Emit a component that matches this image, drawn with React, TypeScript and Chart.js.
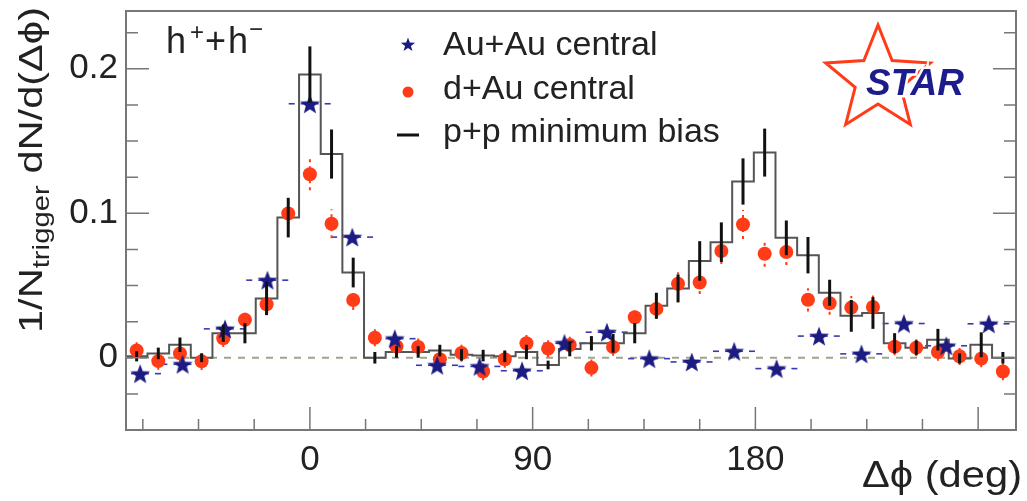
import React, { useEffect, useRef } from 'react';
import { Chart, registerables } from 'chart.js';

Chart.register(...registerables);

// ---------- data ----------
// p+p minimum bias histogram: bin centres (deg), contents, statistical errors
const ppBinCenters = [
  -70, -61.25, -52.5, -43.75, -35, -26.25, -17.5, -8.75, 0, 8.75, 17.5,
  26.25, 35, 43.75, 52.5, 61.25, 70, 78.75, 87.5, 96.25, 105, 113.75,
  122.5, 131.25, 140, 148.75, 157.5, 166.25, 175, 183.75, 192.5, 201.25,
  210, 218.75, 227.5, 236.25, 245, 253.75, 262.5, 271.25, 280,
];
const ppBinHalfWidth = 4.375;
const ppValues = [
  0.001, 0.003, 0.009, 0.0, 0.017, 0.017, 0.041, 0.097, 0.196, 0.141, 0.059,
  0.0, 0.004, 0.004, 0.005, 0.002, 0.0015, 0.001, 0.004, -0.005, 0.006, 0.010,
  0.010, 0.017, 0.036, 0.048, 0.067, 0.080, 0.122, 0.142, 0.083, 0.071,
  0.045, 0.029, 0.031, 0.010, 0.007, 0.0125, -0.0005, 0.009, 0.0,
];
const ppErrors = [
  0.0035, 0.004, 0.005, 0.003, 0.006, 0.007, 0.0115, 0.0137, 0.0195, 0.017, 0.0103,
  0.004, 0.004, 0.004, 0.004, 0.004, 0.004, 0.004, 0.005, 0.003, 0.005, 0.005,
  0.0065, 0.007, 0.009, 0.0097, 0.0137, 0.0137, 0.016, 0.0166, 0.012, 0.0126,
  0.009, 0.011, 0.011, 0.007, 0.005, 0.0075, 0.0035, 0.0086, 0.004,
];

// d+Au central (same binning as p+p)
const dAuValues = [
  0.005, -0.0023, 0.003, -0.0025, 0.0135, 0.0263, 0.037, 0.0998, 0.127, 0.0927, 0.040,
  0.0139, 0.0078, 0.0075, -0.001, 0.0033, -0.0095, -0.001, 0.010, 0.0063, 0.0088, -0.007,
  0.0074, 0.028, 0.0338, 0.0512, 0.0521, 0.0739, 0.0922, 0.072, 0.0732, 0.0401,
  0.0377, 0.0347, 0.0351, 0.0077, 0.007, 0.004, 0.001, -0.0006, -0.0095,
];
const dAuErrors = [
  0.006, 0.006, 0.006, 0.006, 0.006, 0.007, 0.007, 0.008, 0.011, 0.010, 0.007,
  0.006, 0.006, 0.006, 0.006, 0.006, 0.006, 0.006, 0.006, 0.006, 0.006, 0.006,
  0.006, 0.007, 0.007, 0.008, 0.008, 0.009, 0.010, 0.009, 0.009, 0.008,
  0.008, 0.008, 0.008, 0.006, 0.006, 0.006, 0.006, 0.006, 0.006,
];

// Au+Au central (wider bins)
const auAuCenters = [
  -68.57, -51.43, -34.29, -17.14, 0, 17.14, 34.29, 51.43, 68.57, 85.71, 102.86,
  120, 137.14, 154.29, 171.43, 188.57, 205.71, 222.86, 240, 257.14, 274.29,
];
const auAuHalfWidth = 8.57;
const auAuValues = [
  -0.011, -0.0045, 0.020, 0.0537, 0.1758, 0.0835, 0.0132, -0.0052, -0.006, -0.009, 0.010,
  0.0177, -0.0006, -0.0029, 0.0045, -0.0075, 0.015, 0.0027, 0.0237, 0.0083, 0.0235,
];

// axes
const xMin = -74.3;
const xMax = 285.3;
const yMin = -0.05;
const yMax = 0.24;
const xTickValues = [-67.5, -45, -22.5, 0, 22.5, 45, 67.5, 90, 112.5, 135, 157.5, 180, 202.5, 225, 247.5, 270];
const xMajorTicks = [0, 90, 180, 270];
const xLabelValues = [0, 90, 180];
const yTickValues = [-0.025, 0, 0.025, 0.05, 0.075, 0.1, 0.125, 0.15, 0.175, 0.2, 0.225];
const yMajorTicks = [0, 0.1, 0.2];
const yLabelValues = [0, 0.1, 0.2];

const legendLabels = ['Au+Au central', 'd+Au central', 'p+p minimum bias'];

// ---------- styles ----------
const FONT = '"Liberation Sans", Arial, Helvetica, sans-serif';
const NAVY = '#1b1b82';
const ORANGE = '#ff3c17';
const TEXT = '#222222';
const AXIS = '#777777';

function starPath(ctx: CanvasRenderingContext2D, cx: number, cy: number, R: number, r: number) {
  ctx.beginPath();
  for (let i = 0; i < 10; i++) {
    const rad = i % 2 === 0 ? R : r;
    const a = -Math.PI / 2 + (i * Math.PI) / 5;
    const px = cx + rad * Math.cos(a);
    const py = cy + rad * Math.sin(a);
    if (i === 0) ctx.moveTo(px, py);
    else ctx.lineTo(px, py);
  }
  ctx.closePath();
}

function makeStarMarker(size: number, R: number, r: number, color: string) {
  const c = document.createElement('canvas');
  c.width = size;
  c.height = size;
  const g = c.getContext('2d')!;
  starPath(g, size / 2, size / 2 + 1, R, r);
  g.fillStyle = color;
  g.fill();
  return c;
}

function drawFittedText(
  ctx: CanvasRenderingContext2D,
  runs: { text: string; size: number; dy: number }[],
  targetLength: number,
) {
  let total = 0;
  const widths = runs.map((r) => {
    ctx.font = `${r.size}px ${FONT}`;
    const w = ctx.measureText(r.text).width;
    total += w;
    return w;
  });
  const sx = targetLength / total;
  ctx.scale(sx, 1);
  let x = 0;
  runs.forEach((r, i) => {
    ctx.font = `${r.size}px ${FONT}`;
    ctx.fillText(r.text, x, r.dy);
    x += widths[i];
  });
}

const decorPlugin = {
  id: 'decor',
  beforeDatasetsDraw(chart: any) {
    const { ctx, chartArea: a } = chart;
    const x = chart.scales.x;
    const y = chart.scales.y;
    ctx.save();
    ctx.beginPath();
    ctx.rect(a.left, a.top, a.right - a.left, a.bottom - a.top);
    ctx.clip();

    // zero reference line
    const y0 = y.getPixelForValue(0);
    ctx.strokeStyle = '#a3a38c';
    ctx.lineWidth = 2;
    ctx.setLineDash([7, 7]);
    ctx.beginPath();
    ctx.moveTo(a.left, y0);
    ctx.lineTo(a.right, y0);
    ctx.stroke();

    // Au+Au horizontal bin-width bars
    ctx.strokeStyle = '#3a3ab0';
    ctx.lineWidth = 1.6;
    ctx.setLineDash([6, 6]);
    auAuCenters.forEach((c, i) => {
      const py = y.getPixelForValue(auAuValues[i]);
      ctx.beginPath();
      ctx.moveTo(x.getPixelForValue(c - auAuHalfWidth), py);
      ctx.lineTo(x.getPixelForValue(c + auAuHalfWidth), py);
      ctx.stroke();
    });

    // d+Au error bars (dotted)
    ctx.strokeStyle = ORANGE;
    ctx.lineWidth = 2;
    ctx.setLineDash([3, 4]);
    ppBinCenters.forEach((c, i) => {
      const px = x.getPixelForValue(c);
      ctx.beginPath();
      ctx.moveTo(px, y.getPixelForValue(dAuValues[i] - dAuErrors[i]));
      ctx.lineTo(px, y.getPixelForValue(dAuValues[i] + dAuErrors[i]));
      ctx.stroke();
    });
    ctx.restore();
  },
  afterDatasetsDraw(chart: any) {
    const { ctx, chartArea: a } = chart;
    const x = chart.scales.x;
    const y = chart.scales.y;
    ctx.save();
    ctx.beginPath();
    ctx.rect(a.left, a.top, a.right - a.left, a.bottom - a.top);
    ctx.clip();
    // p+p error bars
    ctx.strokeStyle = '#111111';
    ctx.lineWidth = 3;
    ppBinCenters.forEach((c, i) => {
      const px = x.getPixelForValue(c);
      ctx.beginPath();
      ctx.moveTo(px, y.getPixelForValue(ppValues[i] - ppErrors[i]));
      ctx.lineTo(px, y.getPixelForValue(ppValues[i] + ppErrors[i]));
      ctx.stroke();
    });
    ctx.restore();

    // frame
    ctx.save();
    ctx.strokeStyle = AXIS;
    ctx.lineWidth = 2;
    ctx.strokeRect(a.left, a.top, a.right - a.left, a.bottom - a.top);
    ctx.lineWidth = 1.5;
    ctx.beginPath();
    xTickValues.forEach((v) => {
      const px = x.getPixelForValue(v);
      const len = xMajorTicks.includes(v) ? 23 : 11;
      ctx.moveTo(px, a.bottom);
      ctx.lineTo(px, a.bottom - len);
    });
    yTickValues.forEach((v) => {
      const py = y.getPixelForValue(v);
      const len = yMajorTicks.includes(v) ? 23 : 12;
      ctx.moveTo(a.left, py);
      ctx.lineTo(a.left + len, py);
      ctx.moveTo(a.right, py);
      ctx.lineTo(a.right - len, py);
    });
    ctx.stroke();
    ctx.restore();
  },
  afterDraw(chart: any) {
    const { ctx } = chart;
    ctx.save();
    ctx.fillStyle = TEXT;
    ctx.textBaseline = 'alphabetic';
    ctx.textAlign = 'left';

    // y-axis title (rotated)
    ctx.save();
    ctx.translate(42, 333);
    ctx.rotate(-Math.PI / 2);
    drawFittedText(
      ctx,
      [
        { text: '1/N', size: 34, dy: 0 },
        { text: 'trigger', size: 24, dy: 7 },
        { text: ' dN/d(\u0394\u03D5)', size: 34, dy: 0 },
      ],
      326,
    );
    ctx.restore();

    // x-axis title
    ctx.save();
    ctx.translate(862, 487);
    drawFittedText(ctx, [{ text: '\u0394\u03D5 (deg)', size: 37, dy: 0 }], 160);
    ctx.restore();

    // h+ + h-
    ctx.font = `36px ${FONT}`;
    ctx.fillText('h', 166, 53);
    ctx.fillText('+', 205, 53);
    ctx.fillText('h', 228, 53);
    ctx.font = `24px ${FONT}`;
    ctx.fillText('+', 190, 40);
    ctx.fillText('\u2212', 249, 37);

    // legend
    ctx.font = `34px ${FONT}`;
    const legendBaselines = [55, 99, 142];
    legendLabels.forEach((t, i) => ctx.fillText(t, 443, legendBaselines[i]));
    starPath(ctx, 408, 45, 7.5, 3.1);
    ctx.fillStyle = NAVY;
    ctx.fill();
    ctx.beginPath();
    ctx.arc(408, 92, 5.5, 0, Math.PI * 2);
    ctx.fillStyle = ORANGE;
    ctx.fill();
    ctx.strokeStyle = '#111111';
    ctx.lineWidth = 3;
    ctx.beginPath();
    ctx.moveTo(397, 135);
    ctx.lineTo(419, 135);
    ctx.stroke();

    // STAR logo
    starPath(ctx, 878, 80, 55, 24);
    ctx.strokeStyle = ORANGE;
    ctx.lineWidth = 3;
    ctx.lineJoin = 'miter';
    ctx.stroke();
    ctx.font = `italic bold 37px ${FONT}`;
    ctx.lineWidth = 5;
    ctx.strokeStyle = '#ffffff';
    ctx.strokeText('STAR', 866, 95);
    ctx.fillStyle = '#1c1c8c';
    ctx.fillText('STAR', 866, 95);
    ctx.restore();
  },
};

export default function App() {
  const canvasRef = useRef<HTMLCanvasElement | null>(null);

  useEffect(() => {
    const canvas = canvasRef.current;
    if (!canvas) return;
    const starMarker = makeStarMarker(26, 10.5, 4.4, NAVY);

    const histPoints = ppBinCenters.map((c, i) => ({ x: c - ppBinHalfWidth, y: ppValues[i] }));
    histPoints.push({
      x: ppBinCenters[ppBinCenters.length - 1] + ppBinHalfWidth,
      y: ppValues[ppValues.length - 1],
    });

    const chart = new Chart(canvas, {
      type: 'line',
      data: {
        datasets: [
          {
            label: legendLabels[0],
            data: auAuCenters.map((c, i) => ({ x: c, y: auAuValues[i] })),
            showLine: false,
            pointStyle: starMarker as any,
            pointRadius: 10,
            backgroundColor: NAVY,
            borderColor: NAVY,
          },
          {
            label: legendLabels[1],
            data: ppBinCenters.map((c, i) => ({ x: c, y: dAuValues[i] })),
            showLine: false,
            pointStyle: 'circle',
            pointRadius: 7,
            pointBorderWidth: 0,
            backgroundColor: ORANGE,
            borderColor: ORANGE,
          },
          {
            label: legendLabels[2],
            data: histPoints,
            showLine: true,
            stepped: 'before',
            pointRadius: 0,
            borderColor: '#555555',
            borderWidth: 2,
            fill: false,
          },
        ] as any,
      },
      options: {
        responsive: false,
        animation: false,
        events: [],
        layout: { padding: { left: 0, right: 6, top: 9, bottom: 0 } },
        plugins: {
          legend: { display: false },
          tooltip: { enabled: false },
          title: { display: false },
        },
        scales: {
          x: {
            type: 'linear',
            min: xMin,
            max: xMax,
            grid: { display: false, drawTicks: false },
            border: { display: false },
            afterBuildTicks: (s: any) => {
              s.ticks = xLabelValues.map((v) => ({ value: v }));
            },
            afterFit: (s: any) => {
              s.height = 71;
              s.paddingLeft = 0;
              s.paddingRight = 0;
            },
            ticks: {
              font: { family: FONT, size: 35 },
              color: TEXT,
              padding: 9,
              maxRotation: 0,
              autoSkip: false,
              callback: (v: any) => String(v),
            },
          },
          y: {
            type: 'linear',
            min: yMin,
            max: yMax,
            grid: { display: false, drawTicks: false },
            border: { display: false },
            afterBuildTicks: (s: any) => {
              s.ticks = yLabelValues.map((v) => ({ value: v }));
            },
            afterFit: (s: any) => {
              s.width = 126;
              s.paddingTop = 0;
              s.paddingBottom = 0;
            },
            ticks: {
              font: { family: FONT, size: 35 },
              color: TEXT,
              padding: 8,
              autoSkip: false,
              callback: (v: any) => String(Math.round(v * 10) / 10),
            },
          },
        },
      } as any,
      plugins: [decorPlugin],
    });

    return () => chart.destroy();
  }, []);

  return (
    <div style={{ position: 'fixed', left: 0, top: 0, width: 1027, height: 501, background: '#ffffff' }}>
      <canvas ref={canvasRef} width={1027} height={501} style={{ display: 'block' }} />
    </div>
  );
}
